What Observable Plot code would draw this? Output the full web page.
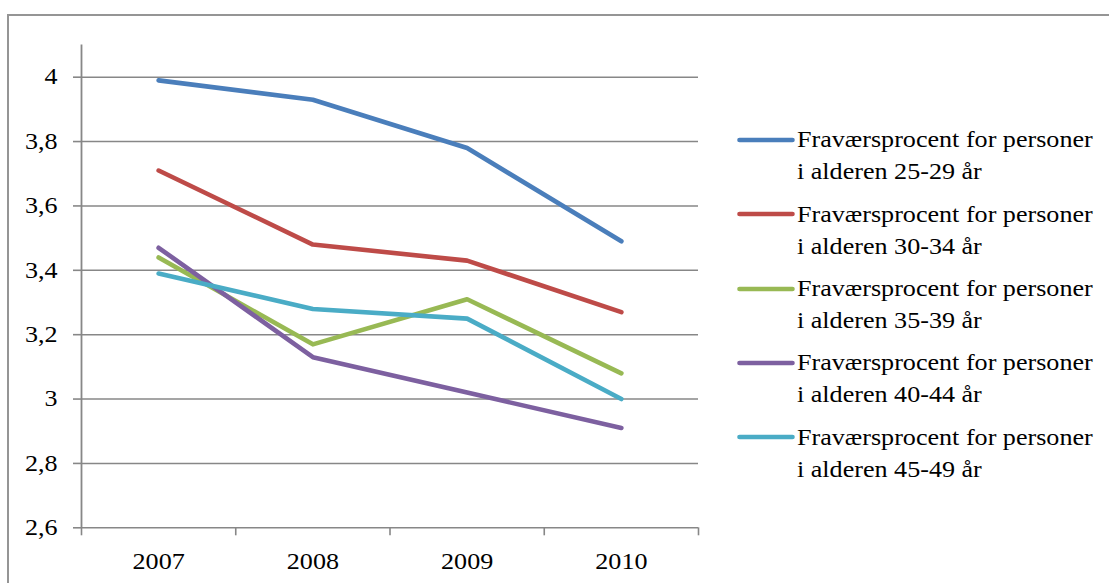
<!DOCTYPE html>
<html>
<head>
<meta charset="utf-8">
<script src="https://cdn.jsdelivr.net/npm/d3@7"></script>
<script src="https://cdn.jsdelivr.net/npm/@observablehq/plot@0.6"></script>
<style>
  html, body { margin: 0; padding: 0; background: #fff; overflow: hidden; }
  #wrap { position: relative; width: 1109px; height: 583px; overflow: hidden;
          font-family: "Liberation Serif", "Times New Roman", serif; }
  #chart { position: absolute; left: 0; top: 0; }
  #border { position: absolute; left: 7px; top: 14px; width: 1300px; height: 800px;
            border: 2px solid #959595; pointer-events: none; }
  .item { position: absolute; left: 737px; height: 70px; }
  .item svg { position: absolute; left: 0; top: 12.6px; }
  .item .label { position: absolute; left: 60px; top: 0; font-size: 22.5px; line-height: 32px;
                 color: #000; white-space: nowrap; transform: scaleX(1.16); transform-origin: left top; }
</style>
</head>
<body>
<div id="wrap">
  <div id="chart"></div>
  <div id="legend"></div>
  <div id="border"></div>
</div>
<script>
// Absence rate (fraværsprocent) by age group, 2007–2010
const years = ["2007", "2008", "2009", "2010"];
const seriesNames = [
  "Fraværsprocent for personer i alderen 25-29 år",
  "Fraværsprocent for personer i alderen 30-34 år",
  "Fraværsprocent for personer i alderen 35-39 år",
  "Fraværsprocent for personer i alderen 40-44 år",
  "Fraværsprocent for personer i alderen 45-49 år"
];
const seriesColors = ["#4a7ebb", "#be4b48", "#98b954", "#7d60a0", "#4aacc6"];
const age25to29 = [3.99, 3.93, 3.78, 3.49];
const age30to34 = [3.71, 3.48, 3.43, 3.27];
const age35to39 = [3.44, 3.17, 3.31, 3.08];
const age40to44 = [3.47, 3.13, 3.02, 2.91];
const age45to49 = [3.39, 3.28, 3.25, 3.00];
const yTicks = [2.6, 2.8, 3, 3.2, 3.4, 3.6, 3.8, 4];

const seriesValues = [age25to29, age30to34, age35to39, age40to44, age45to49];
const rows = seriesNames.flatMap((name, i) =>
  years.map((year, j) => ({ series: name, year, slot: j + 0.5, value: seriesValues[i][j] }))
);

const fmtY = v => String(+v.toFixed(1)).replace(".", ",");
const gray = "#878787";

const chart = Plot.plot({
  width: 1109,
  height: 583,
  marginLeft: 81,
  marginRight: 411,
  marginTop: 44.5,
  marginBottom: 55.7,
  style: { fontFamily: '"Liberation Serif", "Times New Roman", serif', fontSize: "22.5px",
           color: "#000", background: "transparent" },
  x: { type: "linear", domain: [0, years.length], axis: null, label: null },
  y: { domain: [2.6, 4.1], axis: null, label: null },
  color: { domain: seriesNames, range: seriesColors },
  marks: [
    Plot.gridY(yTicks, { stroke: gray, strokeOpacity: 1, strokeWidth: 1.6 }),
    Plot.ruleX([0], { stroke: gray, strokeWidth: 1.8 }),
    Plot.axisY(yTicks, { tickSize: 8, tickPadding: 16, stroke: gray, strokeWidth: 1.6, label: null,
                         strokeOpacity: 1, tickFormat: fmtY, fill: "#000" }),
    // category boundary ticks
    Plot.axisX(d3.range(years.length + 1), { tickSize: 8, stroke: gray, strokeWidth: 1.6, label: null,
                                             strokeOpacity: 1, tickFormat: () => "" }),
    // category labels centred in each slot
    Plot.axisX(years.map((_, j) => j + 0.5), { tickSize: 0, tickPadding: 25, label: null,
                                               tickFormat: v => years[v - 0.5], fill: "#000" }),
    Plot.line(rows, { x: "slot", y: "value", z: "series", stroke: "series",
                      strokeWidth: 4.6, strokeLinecap: "round", strokeLinejoin: "round" })
  ]
});
document.getElementById("chart").appendChild(chart);

// widen the serif labels slightly
chart.querySelectorAll("text").forEach(t => {
  const len = t.getComputedTextLength();
  if (len > 0) {
    t.setAttribute("textLength", (len * 1.16).toFixed(1));
    t.setAttribute("lengthAdjust", "spacingAndGlyphs");
  }
});

// legend to the right of the plot
const legend = document.getElementById("legend");
seriesNames.forEach((name, i) => {
  const item = document.createElement("div");
  item.className = "item";
  item.style.top = (124.4 + i * 74.3) + "px";
  const split = name.indexOf(" i alderen");
  item.innerHTML =
    `<svg width="58" height="6"><line x1="2.5" y1="3" x2="55.5" y2="3" stroke="${seriesColors[i]}" stroke-width="4.6" stroke-linecap="round"/></svg>` +
    `<div class="label">${name.slice(0, split)}<br>${name.slice(split + 1)}</div>`;
  legend.appendChild(item);
});
</script>
</body>
</html>
